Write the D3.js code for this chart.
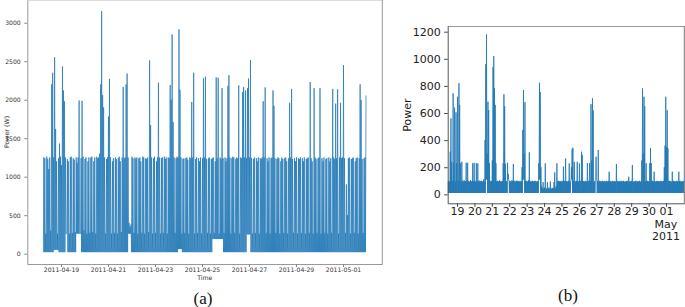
<!DOCTYPE html>
<html><head><meta charset="utf-8">
<script src="https://cdn.jsdelivr.net/npm/d3@7"></script>
<style>body{margin:0;background:#fff} svg{display:block}</style>
</head><body>
<svg id="c" width="685" height="307"></svg>
<script>
// ---------- Panel (a): hourly envelope, starting 2011-04-18 06:00 ----------
const aStart = Date.UTC(2011, 3, 18, 6, 0);
const aHigh = [
1250,1240,260,1260,1230,1100,1250,300,2200,2350,1250,2550,1620,1200,260,1240,1430,1260,1150,2430,2120,1980,1250,260,
1230,1200,260,1250,1260,270,1240,1220,280,1250,1180,1250,1990,260,1240,1985,1260,300,1230,1250,260,1200,1250,270,
1250,1260,280,1200,1250,260,1260,1240,1250,1300,2200,3150,2060,1900,1250,260,1230,1250,1780,2270,1250,260,1200,1240,
270,1250,1230,260,1240,1260,1200,280,1250,2165,1240,1250,2200,2340,1250,400,350,380,1260,1240,270,1250,1230,1250,
260,1240,1250,1200,270,1260,1250,260,1240,1230,1250,280,2510,1670,1250,260,1240,1260,270,1200,1250,2220,1250,260,
1240,1250,270,1260,1230,1250,260,1250,1240,2190,2000,2848,1710,1250,270,1240,1260,1250,2913,2130,1250,260,1230,1240,
270,1240,1250,1220,260,1250,1240,1970,1250,2350,260,1230,1250,270,1240,1200,1250,260,1240,2280,1250,2300,1230,270,
1240,1250,260,1230,1240,1250,270,1200,2290,1240,2285,260,1250,1230,2150,1240,270,1250,1200,1240,2180,2320,1250,260,
1240,1260,1250,270,1230,1250,1240,2185,260,1250,1240,2100,2165,1250,2120,1240,2150,2275,1250,2515,1240,260,1230,1250,
270,1240,1200,1250,260,1240,1230,1250,1980,1250,2160,270,1240,1200,1250,260,1240,1250,2120,1920,1240,270,1230,1250,
1240,260,1200,1250,1230,270,1240,1250,1200,260,1240,1960,1250,2140,1230,270,1240,1200,1250,260,1240,1230,1250,270,
1240,1200,1250,260,1230,1240,1250,270,2230,1240,1200,260,2150,1250,1230,270,1240,1250,2150,260,1240,1200,1250,270,
1230,1240,260,1250,1200,1240,270,2140,1250,1230,1950,1240,2135,260,1250,1960,1240,1250,2450,1240,270,900,500,1240,
1250,260,1230,1240,1250,270,1200,1240,1250,260,1240,2200,1995,1230,270,1240,1250,2055
];
const aLowFrom  = [11, 23, 34, 87, 138, 173, 208];
const aLowTo    = [15, 24, 38, 89, 141, 183, 211];
const aLowLevel = [50, 260, 260, 260, 60, 190, 250];
const aFloor = 20;
const aYTicks = [0, 500, 1000, 1500, 2000, 2500, 3000];
const aXTicks = ["2011-04-19","2011-04-21","2011-04-23","2011-04-25","2011-04-27","2011-04-29","2011-05-01"];

// ---------- Panel (b): hourly envelope, starting 2011-04-18 11:10 ----------
const bStart = Date.UTC(2011, 3, 18, 11, 10);
const bHigh = [
95,100,92,315,560,240,100,745,230,640,95,605,230,720,98,820,660,230,95,240,100,92,105,96,
98,233,94,233,100,92,96,105,94,98,230,95,232,100,93,230,96,228,95,102,94,98,100,92,
96,110,95,400,960,1180,300,683,622,230,100,94,98,250,940,1020,782,660,230,96,100,93,97,104,
95,98,92,100,230,738,650,225,96,98,233,150,94,100,96,92,105,98,224,95,100,93,97,102,
95,98,92,100,96,94,200,475,770,300,680,98,100,94,96,105,310,95,98,92,100,96,94,98,
100,95,92,98,96,230,824,755,200,60,45,90,40,50,228,45,40,90,42,50,40,95,45,40,
48,42,90,162,45,60,228,96,100,94,98,92,100,96,94,204,98,100,265,95,98,92,100,228,
96,94,200,335,344,100,240,98,92,100,240,96,94,228,98,100,315,290,95,98,92,100,96,94,
230,98,100,230,96,665,250,709,620,98,94,100,278,96,98,327,94,100,96,92,98,100,94,96,
98,92,100,96,94,98,167,100,96,92,98,100,94,96,98,92,224,100,96,94,98,92,100,96,
94,98,100,92,96,94,98,100,92,130,96,94,98,100,216,92,96,94,98,100,92,96,94,98,
100,92,96,250,782,300,720,650,98,230,94,100,96,92,230,340,230,98,100,94,167,96,92,98,
100,94,96,98,92,100,96,94,98,100,200,360,720,350,620,340,96,100,94,98,92,167,96,100,
94,98,92,100,96,94,167,98,100,92,96,94,98,100,180
];
const bLowFrom  = [53, 83, 104, 126, 170, 204];
const bLowTo    = [54, 84, 105, 127, 171, 205];
const bLowLevel = [110, 110, 110, 110, 110, 110];
const bFloor = 10;
const bYTicks = [0, 200, 400, 600, 800, 1000, 1200];
const bXTickDates = ["2011-04-19","2011-04-20","2011-04-21","2011-04-22","2011-04-23","2011-04-24","2011-04-25",
                     "2011-04-26","2011-04-27","2011-04-28","2011-04-29","2011-04-30","2011-05-01"];

const HOUR = 3600e3;
const parse = d3.utcParse("%Y-%m-%d");

function envelope(start, high, from, to, level, floor) {
  const pts = [];
  high.forEach((h, i) => {
    let lo = floor;
    from.forEach((f, k) => { if (i >= f && i <= to[k]) lo = level[k]; });
    pts.push({t: new Date(start + i * HOUR), v: lo});
    pts.push({t: new Date(start + i * HOUR + HOUR / 2), v: h});
  });
  return pts;
}

const svg = d3.select("#c");
const blue = "#1f77b4";

// ================= Panel (a) =================
{
  const L = 27.3, R = 382.3, T = 0, B = 264;
  const x = d3.scaleUtc().domain([Date.UTC(2011,3,17,13,35), Date.UTC(2011,4,2,16,8)]).range([L, R]);
  const y = d3.scaleLinear().domain([-134, 3295]).range([B, T]);
  svg.append("clipPath").attr("id", "ca").append("rect").attr("x", L).attr("y", T).attr("width", R - L).attr("height", B - T);
  const data = envelope(aStart, aHigh, aLowFrom, aLowTo, aLowLevel, aFloor);
  svg.append("path").datum(data).attr("clip-path", "url(#ca)")
    .attr("fill", "none").attr("stroke", blue).attr("stroke-width", 0.75).attr("stroke-opacity", 0.95)
    .attr("d", d3.line().x(d => x(d.t)).y(d => y(d.v)));
  // frame
  svg.append("line").attr("x1", L).attr("x2", R).attr("y1", 0.5).attr("y2", 0.5).attr("stroke", "#ddd");
  svg.append("line").attr("x1", R).attr("x2", R).attr("y1", 0).attr("y2", B).attr("stroke", "#999");
  const gx = svg.append("g").attr("transform", `translate(0,${B})`)
    .call(d3.axisBottom(x).tickValues(aXTicks.map(parse)).tickFormat(d3.utcFormat("%Y-%m-%d")).tickSize(3).tickSizeOuter(0));
  const gy = svg.append("g").attr("transform", `translate(${L},0)`)
    .call(d3.axisLeft(y).tickValues(aYTicks).tickFormat(d3.format("d")).tickSize(3).tickSizeOuter(0));
  [gx, gy].forEach(g => {
    g.select(".domain").attr("stroke", "#999");
    g.selectAll(".tick line").attr("stroke", "#888");
    g.selectAll("text").attr("font-family", "DejaVu Sans").attr("font-size", 6.1).attr("fill", "#333");
  });
  gx.selectAll("text").attr("dy", "0.35em");
  gy.selectAll("text").attr("dx", "-0.1em");
  svg.append("text").attr("x", (L + R) / 2).attr("y", 279.5).attr("text-anchor", "middle")
    .attr("font-family", "DejaVu Sans").attr("font-size", 6.2).attr("fill", "#333").text("Time");
  svg.append("text").attr("transform", "translate(6,132) rotate(-90)").attr("text-anchor", "middle")
    .attr("dominant-baseline", "central")
    .attr("font-family", "DejaVu Sans").attr("font-size", 6.3).attr("fill", "#333").text("Power (W)");
  svg.append("text").attr("x", 203).attr("y", 303.5).attr("text-anchor", "middle")
    .attr("font-family", "Liberation Serif").attr("font-size", 17).attr("fill", "#111").text("(a)");
}

// ================= Panel (b) =================
{
  const L = 447.7, R = 684.3, T = 26, B = 203.3;
  const x = d3.scaleUtc().domain([Date.UTC(2011,3,18,11,12), Date.UTC(2011,4,2,1,13)]).range([L, R]);
  const y = d3.scaleLinear().domain([-66, 1242]).range([B, T]);
  svg.append("clipPath").attr("id", "cb").append("rect").attr("x", L).attr("y", T).attr("width", R - L).attr("height", B - T);
  const data = envelope(bStart, bHigh, bLowFrom, bLowTo, bLowLevel, bFloor);
  svg.append("path").datum(data).attr("clip-path", "url(#cb)")
    .attr("fill", "none").attr("stroke", blue).attr("stroke-width", 0.8)
    .attr("d", d3.line().x(d => x(d.t)).y(d => y(d.v)));
  svg.append("line").attr("x1", L).attr("x2", R).attr("y1", T + 0.5).attr("y2", T + 0.5).attr("stroke", "#999");
  svg.append("line").attr("x1", R).attr("x2", R).attr("y1", T).attr("y2", B).attr("stroke", "#777");
  const dates = bXTickDates.map(parse);
  const gx = svg.append("g").attr("transform", `translate(0,${B})`)
    .call(d3.axisBottom(x).tickValues(dates).tickFormat(d3.utcFormat("%d")).tickSize(3.5).tickSizeOuter(0));
  const gy = svg.append("g").attr("transform", `translate(${L},0)`)
    .call(d3.axisLeft(y).tickValues(bYTicks).tickFormat(d3.format("d")).tickSize(3.5).tickSizeOuter(0));
  [gx, gy].forEach(g => {
    g.select(".domain").attr("stroke", "#555");
    g.selectAll(".tick line").attr("stroke", "#444");
    g.selectAll("text").attr("font-family", "DejaVu Sans").attr("font-size", 11).attr("fill", "#222");
  });
  gx.selectAll("text").attr("dy", "0.5em");
  gy.selectAll("text").attr("dx", "-0.05em");
  // stacked month / year labels below the 01 tick, as separate lines
  const last = dates[dates.length - 1];
  ["May", "2011"].forEach((s, k) => {
    svg.append("text").attr("x", x(last)).attr("y", 228 + k * 11.5).attr("text-anchor", "middle")
      .attr("font-family", "DejaVu Sans").attr("font-size", 11).attr("fill", "#222").text(s);
  });
  svg.append("text").attr("transform", "translate(407,115) rotate(-90)").attr("text-anchor", "middle")
    .attr("dominant-baseline", "central")
    .attr("font-family", "DejaVu Sans").attr("font-size", 11).attr("fill", "#222").text("Power");
  svg.append("text").attr("x", 568).attr("y", 300.5).attr("text-anchor", "middle")
    .attr("font-family", "Liberation Serif").attr("font-size", 17).attr("fill", "#111").text("(b)");
}
</script>
</body></html>
